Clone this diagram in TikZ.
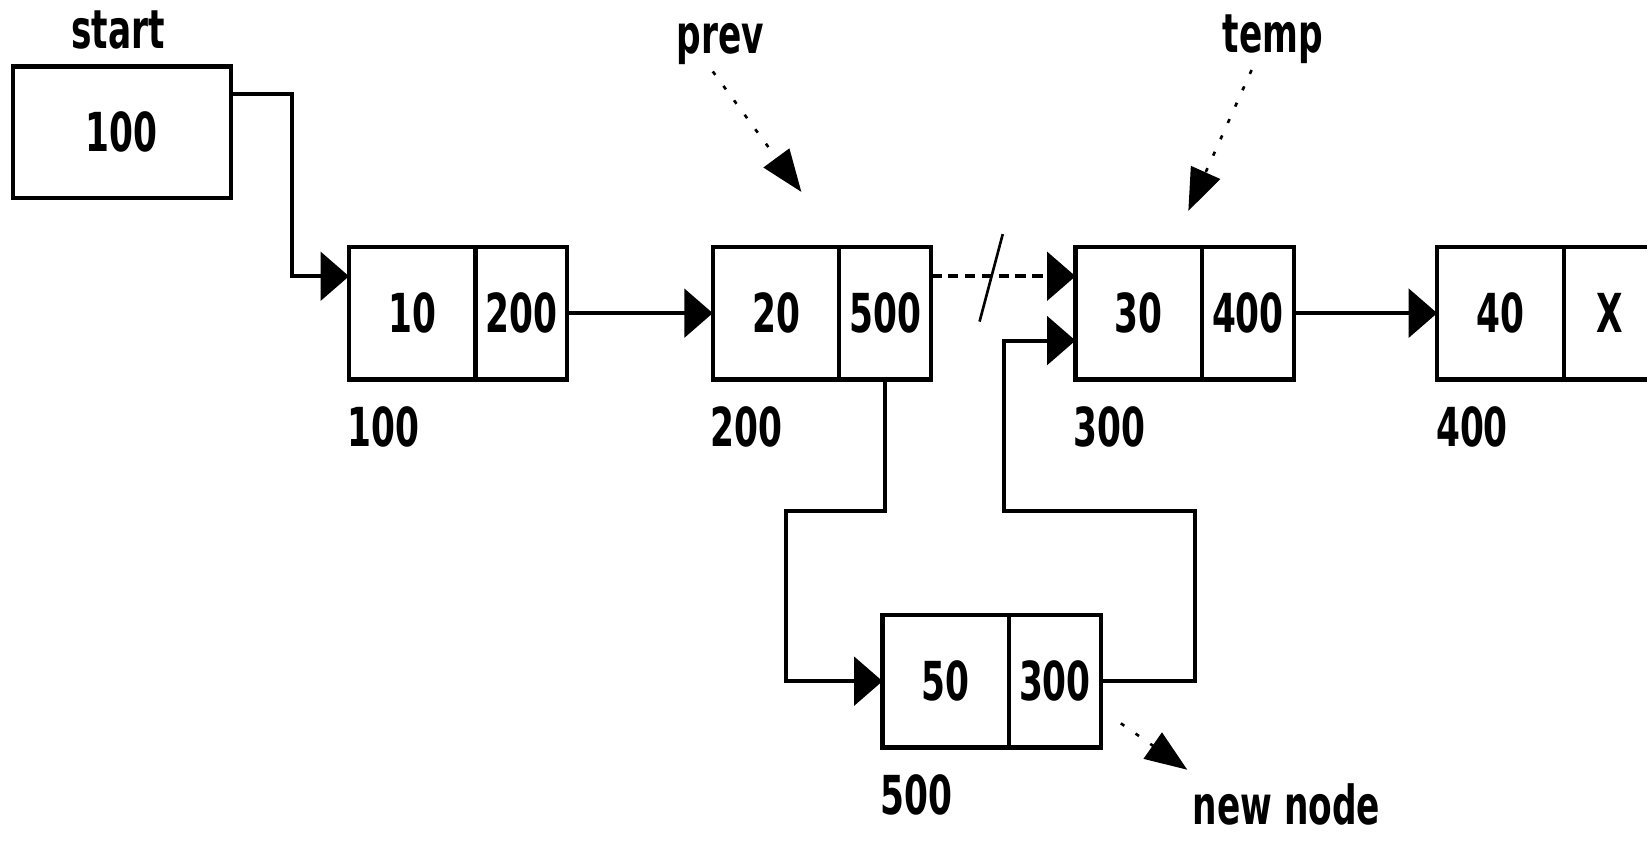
\documentclass[tikz,border=0pt]{standalone}
\usepackage{fontspec}
\setmainfont{DejaVu Sans}
\usepackage{graphicx}
\usetikzlibrary{arrows.meta}

\newcommand{\lbl}[1]{\scalebox{0.64}[1]{\bfseries #1}}

\begin{document}
\begin{tikzpicture}[x=0.2mm,y=-0.2mm,font=\fontsize{29}{33}\selectfont]
  \tikzstyle{datacell}=[draw,rectangle,line width=0.8mm,inner sep=0pt,outer sep=0pt,minimum width=24mm,minimum height=25.2mm]
  \tikzstyle{linkcell}=[datacell,minimum width=17.4mm]
  \tikzstyle{headbox}=[datacell,minimum width=41.4mm,minimum height=25mm]
  \tikzstyle{link}=[line width=0.75mm,-{Triangle[length=5.4mm,width=9.2mm]}]
  \tikzstyle{oldlink}=[link,dash pattern=on 2mm off 1.2mm]
  \tikzstyle{pointer}=[line width=0.5mm,dash pattern=on 0.8mm off 2.6mm,-{Triangle[length=8mm,width=6mm]}]

  \useasboundingbox (0,0) rectangle (1562,799);

  % start pointer
  \node (start) at (115.5,125.5) [headbox] {\lbl{100}};
  \node (startname) at (112,28) {\lbl{start}};

  % list nodes
  \node (d1) at (391,297) [datacell] {\lbl{10}};
  \node (p1) at (494.5,297) [linkcell] {\lbl{200}};
  \node (d2) at (736,297) [datacell] {\lbl{20}};
  \node (p2) at (839.5,297) [linkcell] {\lbl{500}};
  \node (d3) at (1080,297) [datacell] {\lbl{30}};
  \node (p3) at (1183.5,297) [linkcell] {\lbl{400}};
  \node (d4) at (1423,297) [datacell] {\lbl{40}};
  \node (p4) at (1526.5,297) [linkcell] {\lbl{X}};
  \node (d5) at (897,646) [datacell] {\lbl{50}};
  \node (p5) at (1000.5,646) [linkcell] {\lbl{300}};

  % addresses
  \node (a1) at (364,405) {\lbl{100}};
  \node (a2) at (708,405) {\lbl{200}};
  \node (a3) at (1052,405) {\lbl{300}};
  \node (a4) at (1396,405) {\lbl{400}};
  \node (a5) at (869,754) {\lbl{500}};

  % names
  \node (prev) at (683,42) {\lbl{prev}};
  \node (temp) at (1207,37) {\lbl{temp}};
  \node (newnode) at (1220,763) [inner sep=0pt] {\lbl{new node}};

  \draw[link] ([yshift=7.3mm]start.east) -- ++(58,0) |- ([yshift=7mm]d1.west);
  \draw[link] (p1.east) -- (d2.west);
  \draw[oldlink] ([yshift=7mm]p2.east) -- ([yshift=7mm]d3.west);
  \draw[link] (p3.east) -- (d4.west);
  \draw[line width=0.5mm] (951,222) -- (929,305);

  \coordinate (bendA) at (745,485);
  \coordinate (bendB) at (1133,485);
  \coordinate (bendC) at (952,485);
  \draw[link] (p2.south) |- (bendA) |- (d5.west);
  \draw[link] (p5.east) -| (bendB) -- (bendC) |- ([yshift=-5.2mm]d3.west);

  \coordinate (prevtip) at (760,182);
  \coordinate (temptip) at (1127,200);
  \coordinate (nnfrom) at (1063,686);
  \coordinate (nntip) at (1126,730);
  \draw[pointer] ([xshift=-1.4mm]prev.south) -- (prevtip);
  \draw[pointer] ([xshift=-4mm]temp.south) -- (temptip);
  \draw[pointer] (nnfrom) -- (nntip);
\end{tikzpicture}
\end{document}
